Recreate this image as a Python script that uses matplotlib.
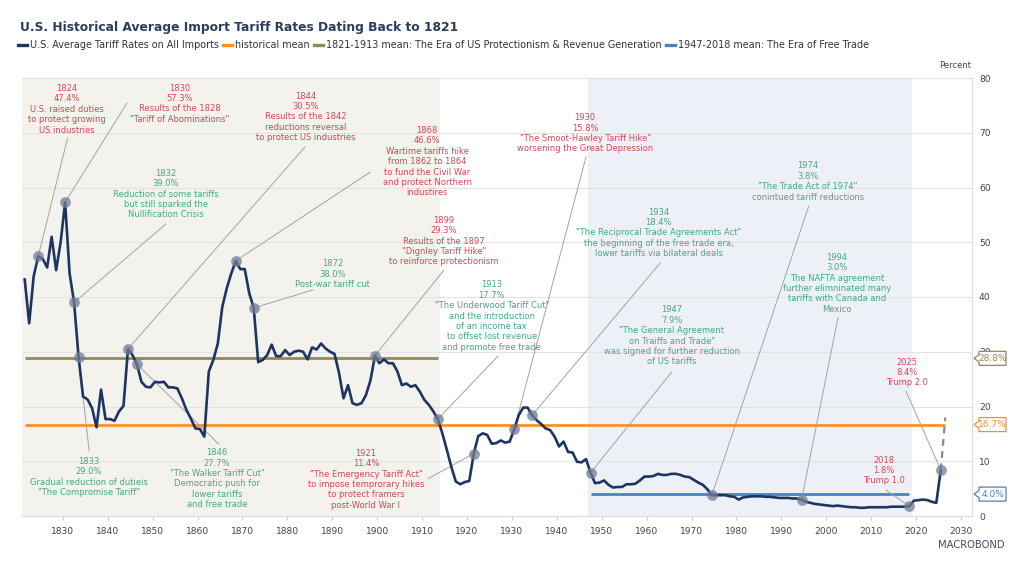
import matplotlib
matplotlib.use("Agg")
import matplotlib.pyplot as plt
import matplotlib.transforms as mtransforms
from matplotlib.patches import Polygon
from matplotlib.lines import Line2D
import numpy as np

# ---------------- data ----------------
years = list(range(1821, 2026))
tariff = [
    43.2, 35.2, 43.8, 47.4, 47.0, 45.4, 51.0, 44.9, 50.0, 57.3,   # 1821-1830
    44.3, 39.0, 29.0, 21.8, 21.3, 19.7, 16.2, 23.1, 17.7, 17.7,   # 1831-1840
    17.4, 19.1, 20.1, 30.5, 29.4, 27.7, 24.5, 23.6, 23.5, 24.5,   # 1841-1850
    24.4, 24.5, 23.5, 23.5, 23.3, 21.5, 19.4, 17.8, 16.0, 15.9,   # 1851-1860
    14.5, 26.4, 28.5, 31.5, 38.2, 41.6, 44.3, 46.6, 45.1, 45.1,   # 1861-1870
    40.7, 38.0, 28.1, 28.5, 29.4, 31.3, 29.2, 29.2, 30.3, 29.4,   # 1871-1880
    30.0, 30.2, 30.0, 28.6, 30.8, 30.4, 31.5, 30.6, 30.0, 29.6,   # 1881-1890
    26.1, 21.5, 23.9, 20.6, 20.3, 20.6, 22.1, 24.8, 29.3, 27.9,   # 1891-1900
    28.6, 27.9, 27.9, 26.4, 23.9, 24.2, 23.6, 23.9, 22.7, 21.2,   # 1901-1910
    20.3, 19.1, 17.7, 15.1, 12.1, 9.0, 6.3, 5.8, 6.2, 6.4,        # 1911-1920
    11.4, 14.6, 15.1, 14.8, 13.2, 13.3, 13.8, 13.4, 13.6, 15.8,   # 1921-1930
    18.4, 19.8, 19.8, 18.4, 17.5, 16.8, 16.0, 15.7, 14.5, 12.7,   # 1931-1940
    13.6, 11.7, 11.6, 9.9, 9.8, 10.4, 7.9, 6.0, 6.1, 6.5,         # 1941-1950
    5.7, 5.2, 5.3, 5.3, 5.8, 5.8, 5.9, 6.5, 7.2, 7.2,             # 1951-1960
    7.3, 7.7, 7.5, 7.5, 7.7, 7.7, 7.5, 7.2, 7.1, 6.6,             # 1961-1970
    6.1, 5.7, 4.9, 3.8, 3.8, 3.8, 3.8, 3.6, 3.5, 3.0,             # 1971-1980
    3.4, 3.5, 3.6, 3.6, 3.6, 3.5, 3.5, 3.4, 3.3, 3.3,             # 1981-1990
    3.3, 3.2, 3.2, 3.0, 2.6, 2.4, 2.2, 2.1, 2.0, 1.9,             # 1991-2000
    1.8, 1.9, 1.8, 1.7, 1.6, 1.6, 1.5, 1.5, 1.6, 1.6,             # 2001-2010
    1.6, 1.6, 1.6, 1.7, 1.7, 1.7, 1.7, 1.8, 2.8, 2.9,             # 2011-2020
    3.0, 2.9, 2.6, 2.4, 8.4,                                      # 2021-2025
]
forecast_years = [2025, 2026]
forecast_values = [8.4, 18.0]

hist_mean = 16.7
protection_mean = 28.8
free_trade_mean = 4.0
protection_span = [1821, 1913]
free_trade_span = [1947, 2018]

x_ticks = list(range(1830, 2031, 10))
y_ticks = list(range(0, 81, 10))

title = "U.S. Historical Average Import Tariff Rates Dating Back to 1821"
legend_labels = [
    "U.S. Average Tariff Rates on All Imports",
    "historical mean",
    "1821-1913 mean: The Era of US Protectionism & Revenue Generation",
    "1947-2018 mean: The Era of Free Trade",
]

ann_years = [1824, 1830, 1844, 1868, 1832, 1872, 1899, 1913, 1930,
             1934, 1947, 1974, 1994, 1921, 1833, 1846, 2025, 2018]
ann_notes = [
    "U.S. raised duties\nto protect growing\nUS industries",
    "Results of the 1828\n\"Tariff of Abominations\"",
    "Results of the 1842\nreductions reversal\nto protect US industries",
    "Wartime tariffs hike\nfrom 1862 to 1864\nto fund the Civil War\nand protect Northern\nindustires",
    "Reduction of some tariffs\nbut still sparked the\nNullification Crisis",
    "Post-war tariff cut",
    "Results of the 1897\n\"Dignley Tariff Hike\"\nto reinforce protectionism",
    "\"The Underwood Tariff Cut\"\nand the introduction\nof an income tax\nto offset lost revenue\nand promote free trade",
    "\"The Smoot-Hawley Tariff Hike\"\nworsening the Great Depression",
    "\"The Reciprocal Trade Agreements Act\"\nthe beginning of the free trade era,\nlower tariffs via bilateral deals",
    "\"The General Agreement\non Traiffs and Trade\"\nwas signed for further reduction\nof US tariffs",
    "\"The Trade Act of 1974\"\nconintued tariff reductions",
    "The NAFTA agreement\nfurther elimninated many\ntariffs with Canada and\nMexico",
    "\"The Emergency Tariff Act\"\nto impose temprorary hikes\nto protect framers\npost-World War I",
    "Gradual reduction of dutieis\n\"The Compromise Tariff\"",
    "\"The Walker Tariff Cut\"\nDemocratic push for\nlower tariffs\nand free trade",
    "Trump 2.0",
    "Trump 1.0",
]
ann_kind = ["hike", "hike", "hike", "hike", "cut", "cut", "hike", "cut", "hike",
            "cut", "cut", "cut", "cut", "hike", "cut", "cut", "hike", "hike"]

# ---------------- layout (text block centres and leader ends) ----------------
text_pos = [(1830.9, 74.3), (1856.1, 75.3), (1884.1, 72.9), (1911.1, 64.7),
            (1852.9, 58.8), (1890.1, 44.2), (1914.9, 50.2), (1925.5, 36.5),
            (1946.3, 69.9), (1962.7, 51.7), (1965.6, 32.9), (1995.9, 61.1),
            (2002.4, 42.5), (1897.5, 6.7), (1835.8, 7.1), (1864.3, 6.8),
            (2018.0, 26.2), (2012.9, 8.3)]
leader_pos = [(1831.05, 69.0), (1844.25, 75.4), (1883.9, 67.4), (1898.4, 62.8),
              (1852.9, 53.3), (1885.7, 41.3), (1914.85, 44.9), (1926.9, 29.2),
              (1946.5, 65.6), (1963.0, 46.2), (1965.6, 26.3), (1996.1, 56.6),
              (2002.6, 36.2), (1911.3, 6.8), (1835.86, 11.9), (1864.7, 13.15),
              (2017.75, 22.8), (2013.3, 4.75)]

# ---------------- style ----------------
FONT = "DejaVu Sans"
plt.rcParams["font.family"] = [FONT]
NAVY = "#1e3560"
ORANGE = "#f5902c"
OLIVE = "#8f8a58"
BLUE = "#4f80c6"
RED = "#d24a55"
GREEN = "#4aa586"
GRAY_TXT = "#444444"
kind_color = {"hike": RED, "cut": GREEN}
HALF = 0.5  # annual values plotted at mid-year

fig = plt.figure(figsize=(10.24, 5.76), dpi=100)
ax = fig.add_axes([22 / 1024, 60 / 576, 950 / 1024, 438 / 576])

ax.set_xlim(1820.9, 2032.45)
ax.set_ylim(0, 80)

# shaded eras
ax.axvspan(1820.9, protection_span[1] + 1, color="#f3f2ed", zorder=0, lw=0)
ax.axvspan(free_trade_span[0], free_trade_span[1] + 1, color="#edf1f7", zorder=0, lw=0)

# grid / axes
ax.set_axisbelow(True)
ax.set_yticks(y_ticks)
ax.set_xticks(x_ticks)
ax.yaxis.tick_right()
ax.grid(axis="y", color="#e3e3e3", lw=0.8)
for s in ["top", "left"]:
    ax.spines[s].set_visible(False)
ax.spines["right"].set_color("#dcdcdc")
ax.spines["bottom"].set_color("#dcdcdc")
ax.tick_params(axis="y", length=0, pad=5, labelsize=6.6, labelcolor=GRAY_TXT)
ax.tick_params(axis="x", length=3, color="#cfcfcf", pad=5, labelsize=6.6, labelcolor=GRAY_TXT)

xs = np.array(years) + HALF
vals = np.array(tariff)

# mean lines
ax.hlines(protection_mean, protection_span[0] + HALF, protection_span[1] + HALF,
          color=OLIVE, lw=2.0, zorder=2)
ax.hlines(hist_mean, years[0] + HALF, forecast_years[-1] + HALF,
          color=ORANGE, lw=2.0, zorder=2)
ax.hlines(free_trade_mean, free_trade_span[0] + HALF, free_trade_span[1] + HALF,
          color=BLUE, lw=2.0, zorder=2)

# series
ax.plot(xs, vals, color=NAVY, lw=1.9, zorder=4, solid_joinstyle="round")
ax.plot(np.array(forecast_years) + HALF, forecast_values, color="#7d89a6",
        lw=1.6, ls=(0, (3, 2.5)), zorder=4)

# annotations
for yr, note, kind, (tx, ty), (lx, ly) in zip(ann_years, ann_notes, ann_kind,
                                              text_pos, leader_pos):
    v = vals[years.index(yr)]
    px = yr + HALF
    ax.plot([lx, px], [ly, v], color="#a3a3a3", lw=0.7, zorder=3)
    ax.scatter([px], [v], s=60, color="#707d94", alpha=0.75, zorder=5, lw=0)
    ax.text(tx, ty, f"{yr}\n{v:.1f}%\n{note}", ha="center", va="center",
            color=kind_color[kind], fontsize=6.0, linespacing=1.2, zorder=6)

# right-hand value tags
ytrans = ax.get_yaxis_transform()
for val, col in [(protection_mean, OLIVE), (hist_mean, ORANGE), (free_trade_mean, BLUE)]:
    off = fig.dpi_scale_trans + mtransforms.ScaledTranslation(1.0, val, ytrans)
    verts = [(0.02, 0), (0.07, 0.035), (0.07, 0.07), (0.34, 0.07),
             (0.34, -0.07), (0.07, -0.07), (0.07, -0.035)]
    poly = Polygon(verts, closed=True, transform=off, facecolor="white",
                   edgecolor=col, lw=0.9, clip_on=False, zorder=7)
    ax.add_patch(poly)
    ax.text(0.205, 0, f"{val:.1f}%", transform=off, ha="center", va="center",
            fontsize=6.5, color=col, clip_on=False, zorder=8)

# title, legend, misc
fig.text(20 / 1024, 1 - 28 / 576, title, ha="left", va="center", fontsize=8.8,
         weight="bold", color="#2b3c5f")
handles = [Line2D([], [], color=c, lw=2.4) for c in [NAVY, ORANGE, OLIVE, BLUE]]
fig.legend(handles, legend_labels, loc="upper left", bbox_to_anchor=(18 / 1024, 1 - 40 / 576),
           ncol=4, frameon=False, fontsize=6.9, handlelength=0.9, handletextpad=0.3,
           columnspacing=0.5, borderaxespad=0, borderpad=0, labelcolor="#333333")
fig.text(955 / 1024, 1 - 65 / 576, "Percent", ha="center", va="center",
         fontsize=6.0, color=GRAY_TXT)
fig.text(1005 / 1024, 1 - 545 / 576, "MACROBOND", ha="right", va="center",
         fontsize=7.2, color="#3d4b6b")

fig.savefig("out.png", dpi=100)
